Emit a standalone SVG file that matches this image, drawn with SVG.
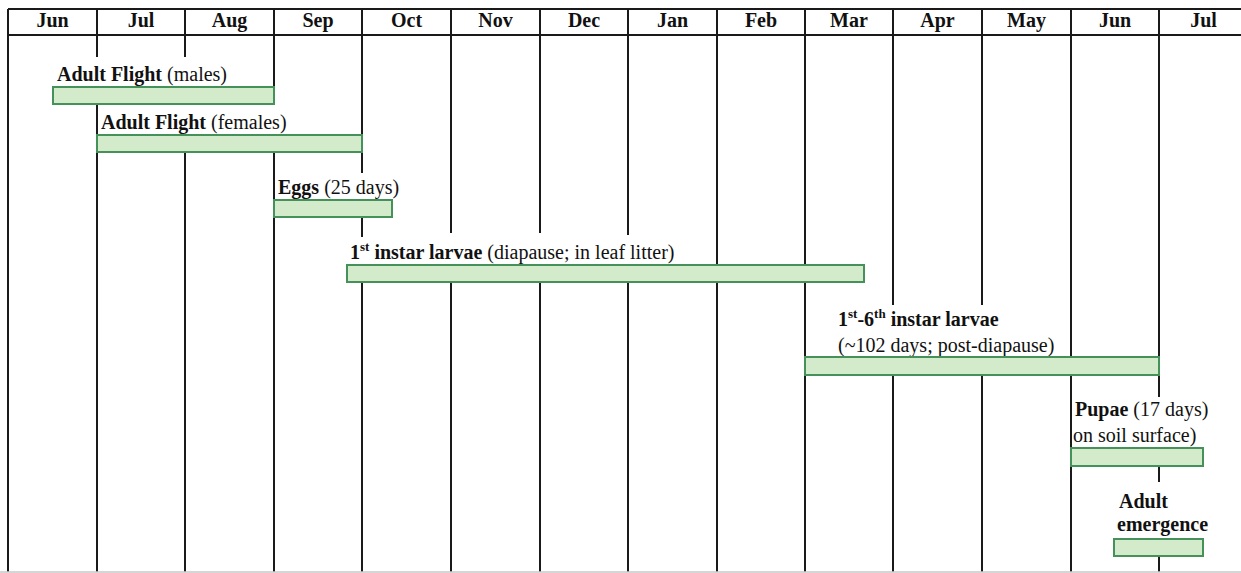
<svg xmlns="http://www.w3.org/2000/svg" width="1241" height="573" viewBox="0 0 1241 573">
<style>
.g{stroke:#1a1a1a;stroke-width:2;fill:none}
.bar{fill:#d3eacb;stroke:#45915a;stroke-width:2}
text{font-family:"Liberation Serif","Times New Roman",serif;fill:#111;font-size:20px}
.m{font-weight:bold;text-anchor:middle}
.b{font-weight:bold}
.sup{font-size:13px;font-weight:bold}
</style>
<rect width="1241" height="573" fill="#fff"/>
<g id="grid" class="g">
<line x1="8" y1="9" x2="1241" y2="9"/>
<line x1="8" y1="35" x2="1241" y2="35"/>
<line x1="8" y1="9" x2="8" y2="572"/>
<line x1="97" y1="9" x2="97" y2="57"/><line x1="97" y1="104" x2="97" y2="572"/>
<line x1="185" y1="9" x2="185" y2="57"/><line x1="185" y1="153" x2="185" y2="572"/>
<line x1="274" y1="9" x2="274" y2="104"/><line x1="274" y1="135" x2="274" y2="572"/>
<line x1="362" y1="9" x2="362" y2="173"/><line x1="362" y1="200" x2="362" y2="237"/><line x1="362" y1="265" x2="362" y2="572"/>
<line x1="451" y1="9" x2="451" y2="233"/><line x1="451" y1="265" x2="451" y2="572"/>
<line x1="540" y1="9" x2="540" y2="233"/><line x1="540" y1="265" x2="540" y2="572"/>
<line x1="628" y1="9" x2="628" y2="235"/><line x1="628" y1="265" x2="628" y2="572"/>
<line x1="717" y1="9" x2="717" y2="572"/>
<line x1="805" y1="9" x2="805" y2="572"/>
<line x1="893" y1="9" x2="893" y2="305"/><line x1="893" y1="357" x2="893" y2="572"/>
<line x1="982" y1="9" x2="982" y2="305"/><line x1="982" y1="357" x2="982" y2="572"/>
<line x1="1071" y1="9" x2="1071" y2="572"/>
<line x1="1159" y1="9" x2="1159" y2="397"/><line x1="1159" y1="466" x2="1159" y2="482"/><line x1="1159" y1="556" x2="1159" y2="572"/>
<line x1="0" y1="572" x2="1241" y2="572" stroke="#c8c8c8" stroke-width="1.5"/>
</g>
<g id="header">
<text class="m" x="52.5" y="27">Jun</text>
<text class="m" x="141" y="27">Jul</text>
<text class="m" x="229.5" y="27">Aug</text>
<text class="m" x="318" y="27">Sep</text>
<text class="m" x="406.5" y="27">Oct</text>
<text class="m" x="495.5" y="27">Nov</text>
<text class="m" x="584" y="27">Dec</text>
<text class="m" x="672.5" y="27">Jan</text>
<text class="m" x="761" y="27">Feb</text>
<text class="m" x="849" y="27">Mar</text>
<text class="m" x="937.5" y="27">Apr</text>
<text class="m" x="1026.5" y="27">May</text>
<text class="m" x="1115" y="27">Jun</text>
<text class="m" x="1203.5" y="27">Jul</text>
</g>
<g id="adult-flight-males">
<text x="57" y="81"><tspan class="b">Adult Flight</tspan> (males)</text>
<rect class="bar" x="53" y="87" width="221" height="17"/>
</g>
<g id="adult-flight-females">
<text x="101" y="129"><tspan class="b">Adult Flight</tspan> (females)</text>
<rect class="bar" x="97" y="135" width="265" height="17"/>
</g>
<g id="eggs">
<text x="278" y="194"><tspan class="b">Eggs</tspan> (25 days)</text>
<rect class="bar" x="274" y="200" width="118" height="17"/>
</g>
<g id="first-instar">
<text x="350" y="259"><tspan class="b">1</tspan><tspan class="sup" dy="-8">st</tspan><tspan class="b" dy="8"> instar larvae</tspan> (diapause; in leaf litter)</text>
<rect class="bar" x="347" y="265" width="517" height="17"/>
</g>
<g id="instar-1-6">
<text x="838" y="326"><tspan class="b">1</tspan><tspan class="sup" dy="-8">st</tspan><tspan class="b" dy="8">-6</tspan><tspan class="sup" dy="-8">th</tspan><tspan class="b" dy="8"> instar larvae</tspan></text>
<text x="838" y="352">(~102 days; post-diapause)</text>
<rect class="bar" x="805" y="357" width="354" height="18"/>
</g>
<g id="pupae">
<text x="1075" y="416"><tspan class="b">Pupae</tspan> (17 days)</text>
<text x="1073" y="442">on soil surface)</text>
<rect class="bar" x="1071" y="448" width="132" height="18"/>
</g>
<g id="adult-emergence">
<text class="b" x="1119" y="508">Adult</text>
<text class="b" x="1117" y="531">emergence</text>
<rect class="bar" x="1114" y="539" width="89" height="17"/>
</g>
</svg>
